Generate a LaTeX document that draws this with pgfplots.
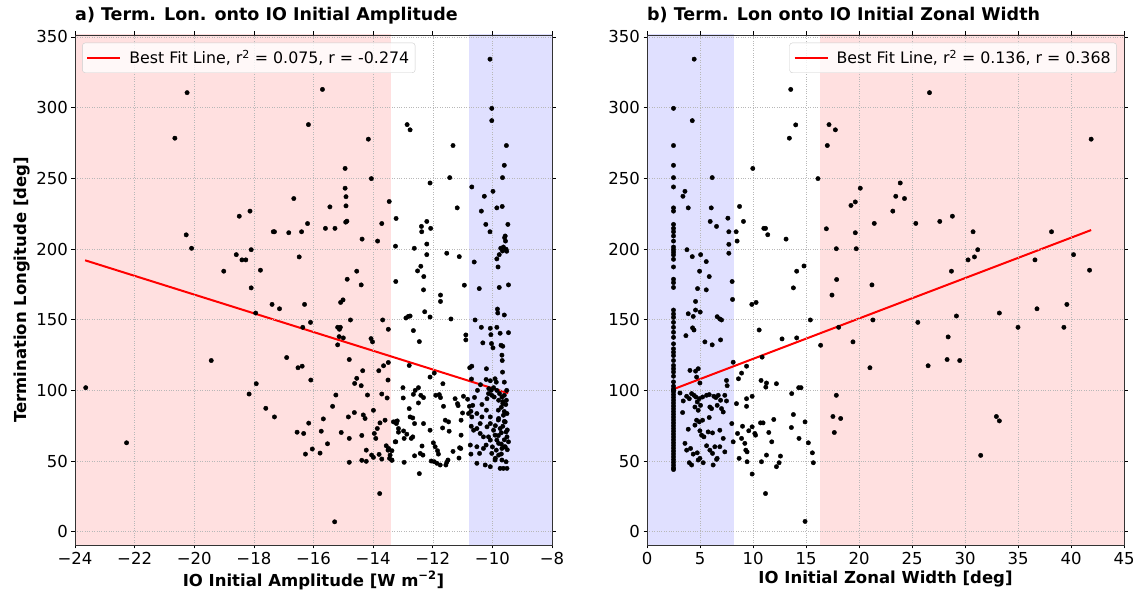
\documentclass[border=0pt]{standalone}
\usepackage{pgfplots}
\pgfplotsset{compat=1.18}
\usepackage{fontspec}
\setmainfont{DejaVu Sans}
\definecolor{pinkshade}{RGB}{255,224,224}
\definecolor{blueshade}{RGB}{224,224,255}
\begin{document}
\begin{tikzpicture}
\path[use as bounding box] (0pt,0pt) rectangle (1140pt,593pt);
\pgfplotsset{
  myax/.style={
    scale only axis, width=477pt, height=510pt,
    ymin=-9.4, ymax=351.4,
    ytick={0,50,100,150,200,250,300,350},
    tick align=outside, major tick length=3.5pt,
    tick style={black, line width=0.7pt},
    axis line style={black!80, line width=0.8pt},
    grid=major, major grid style={dotted, black!28, line width=0.5pt},
    axis on top,
    ticklabel style={font=\fontsize{16.5}{19}\selectfont},
    /pgf/number format/assume math mode=true,
    label style={font=\bfseries\fontsize{16.5}{19}\selectfont},
    title style={at={(0,1)}, anchor=base west, yshift=8pt, inner sep=0pt, font=\bfseries\fontsize{17.5}{20}\selectfont},
    legend style={font=\fontsize{15.8}{18}\selectfont, draw=black!20, rounded corners=3pt, fill=white, fill opacity=0.8, text opacity=1, inner xsep=4pt, inner ysep=5.5pt, column sep=6pt},
    legend image code/.code={\draw[#1] (0pt,0pt) -- (33pt,0pt);},
    legend cell align=left,
  }
}
\begin{axis}[myax, at={(75pt,48pt)}, anchor=south west,
  xmin=-24, xmax=-8,
  xtick={-24,-22,-20,-18,-16,-14,-12,-10,-8},
  xticklabels={−24,−22,−20,−18,−16,−14,−12,−10,−8},
  xlabel={IO Initial Amplitude [W m\textsuperscript{−2}]},
  ylabel={Termination Longitude [deg]},
  title={a) Term. Lon. onto IO Initial Amplitude},
  legend style={at={(0.015,0.985)}, anchor=north west},
]
\addplot[draw=none, fill=pinkshade, forget plot] coordinates {(-24,-20) (-13.4,-20) (-13.4,400) (-24,400)} -- cycle;
\addplot[draw=none, fill=blueshade, forget plot] coordinates {(-10.78,-20) (-8,-20) (-8,400) (-10.78,400)} -- cycle;
\addplot[only marks, mark=*, mark size=2.2pt, black, forget plot] table {
-20.24 310.6
-20.65 278.4
-15.70 312.9
-16.17 288.0
-14.16 277.7
-14.94 257.0
-14.06 249.8
-14.94 243.0
-14.91 237.0
-14.91 230.5
-14.88 219.7
-14.92 219.0
-13.46 233.6
-13.23 221.6
-13.71 218.0
-13.85 205.6
-14.37 207.0
-13.25 202.0
-16.66 235.7
-15.45 229.8
-16.20 218.0
-15.60 214.6
-15.28 214.6
-16.40 212.2
-16.83 211.5
-17.31 212.2
-17.35 212.2
-18.49 223.2
-18.13 226.8
-20.27 210.0
-20.09 200.5
-18.59 196.0
-18.40 192.3
-18.27 192.3
-18.09 199.5
-19.01 184.3
-17.78 185.0
-16.48 194.4
-18.09 172.5
-14.55 184.3
-14.87 178.6
-14.40 174.6
-13.24 177.0
-17.39 160.8
-17.14 157.7
-16.30 160.8
-17.94 154.7
-15.09 162.2
-15.01 164.0
-16.10 148.1
-14.76 149.8
-13.68 149.8
-13.49 143.2
-16.36 144.6
-15.19 144.6
-15.10 144.6
-15.13 143.2
-15.14 138.0
-15.00 137.1
-15.19 132.2
-14.07 136.6
-14.02 134.3
-14.80 121.8
-19.43 121.1
-16.90 123.2
-16.52 116.0
-16.38 117.1
-13.49 119.7
-13.65 117.4
-13.81 113.9
-14.35 113.9
-14.55 108.5
-14.62 104.9
-16.09 107.3
-13.50 107.3
-14.40 103.3
-23.64 101.9
-17.92 104.7
-18.16 97.4
-15.25 96.7
-14.19 96.7
-13.71 97.4
-13.53 94.6
-17.60 87.3
-15.36 88.7
-13.99 85.9
-17.31 81.2
-14.63 84.3
-14.33 82.6
-14.27 80.1
-14.83 81.2
-13.60 78.9
-15.67 79.8
-16.16 76.8
-13.77 77.0
-13.86 73.0
-13.26 77.7
-13.15 70.4
-13.96 69.5
-13.91 66.0
-16.55 70.4
-16.33 69.5
-15.74 71.1
-15.07 70.2
-14.80 66.0
-14.38 68.1
-13.26 63.6
-15.53 62.2
-16.04 58.5
-15.78 55.6
-16.27 54.9
-14.23 57.7
-13.56 60.8
-13.48 58.9
-13.37 57.3
-14.05 54.2
-13.99 52.6
-13.80 54.7
-13.71 51.4
-14.80 49.1
-14.38 50.5
-14.23 49.8
-13.45 51.9
-13.37 50.5
-22.27 62.9
-13.78 27.0
-15.29 7.0
-10.08 334.3
-10.02 299.5
-10.02 290.8
-12.86 288.0
-12.76 284.3
-9.53 273.2
-11.32 273.2
-9.60 259.2
-11.43 250.5
-9.66 250.5
-12.09 246.7
-10.69 243.9
-9.98 240.8
-10.27 237.3
-9.85 229.1
-9.67 230.1
-11.18 229.1
-10.37 226.8
-12.20 219.5
-12.38 216.0
-12.37 212.2
-12.07 214.6
-10.22 217.4
-9.48 217.4
-10.08 212.2
-9.57 209.2
-9.59 208.0
-9.56 205.6
-12.62 200.5
-12.20 203.5
-12.20 196.0
-11.53 197.0
-11.11 194.6
-9.72 200.5
-9.63 201.4
-9.54 199.8
-9.52 198.4
-9.66 198.6
-9.77 196.0
-9.85 193.0
-10.61 190.8
-12.51 184.5
-12.40 187.8
-12.30 180.5
-9.81 187.3
-10.94 174.4
-10.44 172.0
-9.77 172.8
-9.46 174.6
-12.31 171.1
-11.74 167.4
-11.74 162.9
-9.83 157.5
-9.82 154.7
-9.60 153.3
-12.90 151.2
-12.82 152.3
-12.76 152.6
-12.27 155.6
-12.09 151.9
-11.39 150.5
-10.58 149.8
-12.65 142.3
-10.37 144.6
-10.07 143.9
-9.85 144.6
-10.05 139.4
-9.74 140.4
-9.46 140.8
-12.45 134.5
-10.89 139.2
-10.89 135.7
-10.32 133.6
-10.03 133.1
-9.98 130.1
-9.71 131.9
-9.65 131.2
-9.68 124.9
-9.67 121.1
-10.76 116.0
-10.69 117.1
-12.79 117.6
-10.20 115.3
-9.66 112.9
-12.09 109.4
-11.95 112.2
-10.21 107.7
-10.07 106.8
-9.91 108.2
-9.87 105.8
-9.60 105.8
-9.52 100.0
-10.12 101.2
-10.04 100.0
-9.96 101.9
-9.85 100.0
-9.76 97.7
-9.68 95.3
-9.60 96.5
-9.94 95.3
-10.02 96.5
-10.18 94.1
-9.79 93.0
-9.53 93.0
-9.65 90.6
-10.13 97.7
-13.00 101.9
-12.99 94.6
-12.65 97.2
-12.59 100.0
-12.48 101.9
-12.40 96.5
-12.31 94.9
-12.48 91.1
-11.90 96.5
-11.78 97.0
-11.74 94.9
-11.66 104.7
-11.64 88.7
-11.25 94.1
-11.17 90.6
-11.15 89.2
-10.97 95.8
-10.83 93.7
-10.77 88.7
-10.66 89.4
-10.72 85.2
-12.79 87.1
-12.67 80.5
-12.61 76.5
-12.76 81.2
-13.32 77.7
-13.22 76.5
-13.19 78.4
-12.31 76.5
-12.09 71.8
-11.58 78.9
-11.47 77.7
-11.67 73.4
-11.45 71.1
-11.05 78.9
-11.00 84.0
-13.15 73.0
-12.98 71.3
-12.87 69.0
-12.96 66.0
-12.72 66.0
-12.67 67.1
-11.05 68.3
-13.24 63.6
-11.98 62.9
-11.92 60.1
-11.84 57.3
-11.81 54.9
-12.36 60.6
-12.33 54.2
-12.42 55.4
-12.61 53.7
-13.37 50.7
-13.43 54.2
-13.50 57.7
-12.96 49.1
-12.05 50.0
-11.95 49.5
-11.86 48.4
-11.75 47.2
-11.56 47.2
-11.49 50.7
-11.53 49.1
-11.32 56.8
-11.10 59.4
-11.12 52.1
-11.06 58.9
-12.45 41.1
-10.71 74.6
-10.63 71.8
-10.52 73.0
-10.41 69.5
-10.30 67.1
-10.18 74.2
-10.07 76.5
-9.96 71.8
-9.91 68.3
-9.85 64.8
-9.74 73.0
-9.65 74.6
-9.57 77.7
-9.54 70.6
-9.51 67.1
-9.46 63.6
-9.57 60.1
-9.68 58.9
-9.79 62.5
-10.07 64.8
-10.21 61.3
-10.30 58.9
-10.52 60.1
-10.74 61.3
-10.72 54.9
-10.52 48.4
-10.24 47.2
-10.07 46.0
-9.91 50.7
-9.79 54.2
-9.68 50.7
-9.54 49.5
-9.74 44.8
-9.63 44.8
-9.51 44.8
-10.43 55.4
-10.02 55.4
-9.87 57.7
-10.13 67.1
-10.41 76.5
-10.52 83.6
-10.35 81.2
-10.07 81.2
-9.79 80.1
-9.63 82.4
-9.51 83.6
-10.80 83.6
-10.69 81.2
-9.60 85.0
-9.70 88.0
-9.80 86.0
-9.60 78.0
-9.70 70.0
-9.80 68.0
-9.60 65.0
-9.50 72.0
-9.70 62.0
-9.90 75.0
-9.80 79.0
-9.60 60.0
-9.50 58.0
-9.70 55.0
-9.90 52.0
-10.00 60.0
-10.20 86.0
-9.55 90.0
-9.65 92.0
-10.35 90.0
-10.60 95.0
-10.50 100.0
-10.40 104.0
-10.70 108.0
};
\addplot[red, line width=2pt] coordinates {(-23.66,192.0) (-9.47,98.0)};
\addlegendentry{Best Fit Line, r\textsuperscript{2} = 0.075, r = -0.274}
\end{axis}

\begin{axis}[myax, at={(647pt,48pt)}, anchor=south west,
  xmin=0, xmax=45,
  xtick={0,5,10,15,20,25,30,35,40,45},
  xlabel={IO Initial Zonal Width [deg]},
  title={b) Term. Lon onto IO Initial Zonal Width},
  legend style={at={(0.985,0.985)}, anchor=north east},
]
\addplot[draw=none, fill=blueshade, forget plot] coordinates {(-1,-20) (8.2,-20) (8.2,400) (-1,400)} -- cycle;
\addplot[draw=none, fill=pinkshade, forget plot] coordinates {(16.3,-20) (46,-20) (46,400) (16.3,400)} -- cycle;
\addplot[only marks, mark=*, mark size=2.2pt, black, forget plot] table {
2.5 299.5
2.5 273.2
2.5 259.2
2.5 250.5
2.5 243.9
2.5 229.1
2.5 226.8
2.5 217.4
2.5 214.6
2.5 212.2
2.5 209.2
2.5 205.6
2.5 201.4
2.5 199.5
2.5 197.7
2.5 195.8
2.5 192.7
2.5 187.3
2.5 178.6
2.5 176.2
2.5 172.8
2.5 156.8
2.5 154.0
2.5 151.6
2.5 148.1
2.5 144.6
2.5 141.1
2.5 137.5
2.5 132.9
2.5 129.4
2.5 127.0
2.5 124.6
2.5 121.1
2.5 117.6
2.5 115.3
2.5 113.0
2.5 110.0
2.5 106.0
2.5 103.0
2.5 101.0
2.5 100.0
2.5 99.0
2.5 97.0
2.5 95.0
2.5 93.0
2.5 91.0
2.5 89.0
2.5 87.0
2.5 85.0
2.5 83.0
2.5 81.0
2.5 79.0
2.5 77.0
2.5 75.0
2.5 73.0
2.5 71.0
2.5 69.0
2.5 67.0
2.5 65.0
2.5 63.0
2.5 61.0
2.5 59.0
2.5 57.0
2.5 55.0
2.5 53.0
2.5 51.0
2.5 49.0
2.5 47.0
2.5 45.0
2.5 44.0
4.45 334.3
4.27 290.8
6.15 250.5
3.58 240.8
3.39 237.3
3.89 229.1
6.06 229.1
8.73 230.1
9.98 257.0
13.56 312.9
14.03 287.8
13.43 278.4
16.13 249.8
7.63 221.8
5.96 219.5
9.10 219.5
6.56 216.0
11.02 214.6
11.18 214.6
11.39 210.1
7.72 212.2
8.41 212.2
7.72 203.3
8.50 205.6
13.12 207.0
3.77 199.5
4.27 194.6
5.06 196.0
5.59 191.1
7.72 197.0
4.96 184.3
5.87 180.5
14.81 188.0
14.12 184.3
8.03 177.0
4.77 172.0
5.59 171.1
13.81 172.5
8.07 164.3
9.89 160.8
10.29 162.2
4.58 162.9
3.89 154.2
4.36 152.3
4.58 156.8
5.02 155.4
6.62 152.1
6.87 150.5
7.03 149.8
4.30 144.2
4.43 142.7
3.67 138.7
10.58 142.7
15.41 149.8
14.12 137.1
12.74 136.4
5.46 134.3
6.15 132.2
6.94 135.7
8.13 119.9
10.86 123.5
9.39 117.1
4.05 114.1
4.58 113.6
4.83 115.3
8.92 112.2
8.63 108.2
4.68 109.4
4.99 105.2
7.50 107.0
7.56 103.3
10.76 107.0
11.27 105.2
11.21 102.3
12.21 104.7
13.65 97.7
14.31 101.9
14.53 101.9
3.11 98.1
3.42 92.5
3.36 84.3
3.74 95.8
3.99 94.1
4.21 97.7
4.43 96.5
4.61 95.3
4.74 91.8
4.93 94.1
4.52 88.2
4.83 85.9
5.05 89.4
5.24 95.3
5.62 96.5
5.87 97.0
6.31 95.8
6.50 94.9
6.72 96.5
6.94 93.0
7.34 96.5
7.50 92.5
5.93 88.2
6.09 87.1
6.62 89.4
7.03 87.1
7.19 84.7
5.87 80.8
4.68 78.9
4.93 77.7
5.24 78.9
3.89 72.5
4.52 75.4
4.99 71.4
5.15 68.3
5.37 67.1
5.77 70.6
6.18 69.9
6.87 71.8
7.19 66.0
3.58 62.5
3.74 57.7
4.11 58.9
4.36 54.9
4.74 55.8
4.99 51.9
3.99 48.8
4.21 47.2
4.83 50.7
5.30 48.8
5.62 60.8
5.93 57.7
6.18 55.4
6.40 60.1
6.62 51.9
6.87 60.1
6.56 51.2
6.24 47.2
7.34 56.5
8.00 76.5
8.13 63.6
8.44 90.6
8.54 69.5
8.69 51.9
8.92 66.0
9.01 74.6
9.23 62.5
9.32 57.7
9.44 56.5
9.39 94.1
9.39 88.7
9.92 95.8
9.44 49.5
9.60 71.4
9.92 74.2
10.17 69.5
10.24 68.3
9.92 40.8
10.71 77.0
10.95 77.0
10.80 49.5
11.18 27.0
11.27 54.2
11.49 70.2
11.77 63.6
11.96 79.4
12.21 46.0
12.46 48.8
12.59 53.5
13.62 73.7
13.81 82.9
14.34 66.0
14.91 77.7
14.91 7.3
15.22 62.9
15.60 55.8
15.69 48.8
26.65 310.6
17.17 288.0
17.77 284.3
17.01 273.2
41.90 277.7
23.89 246.7
20.12 243.0
23.47 237.3
24.29 235.7
19.24 230.8
19.65 233.3
23.19 226.8
16.92 214.3
19.65 211.5
21.44 218.1
25.36 218.1
27.62 219.5
28.81 223.2
30.76 212.2
38.16 212.2
17.86 200.2
19.74 200.2
31.20 199.5
30.29 192.3
30.89 194.4
36.60 192.3
40.24 196.0
41.75 185.0
28.72 184.3
17.89 178.4
21.22 174.6
17.45 167.4
21.31 149.8
18.08 144.6
25.55 148.1
29.19 152.6
33.24 154.7
36.79 157.7
39.61 160.8
35.00 144.6
39.33 144.6
19.43 134.3
16.38 131.9
28.41 137.8
21.03 116.0
26.52 117.4
28.31 121.8
29.50 121.1
17.86 96.5
17.54 81.5
18.27 80.1
17.67 70.2
32.96 81.5
33.24 78.4
31.48 54.0
};
\addplot[red, line width=2pt] coordinates {(2.45,100.7) (41.9,213.4)};
\addlegendentry{Best Fit Line, r\textsuperscript{2} = 0.136, r = 0.368}
\end{axis}
\end{tikzpicture}
\end{document}
